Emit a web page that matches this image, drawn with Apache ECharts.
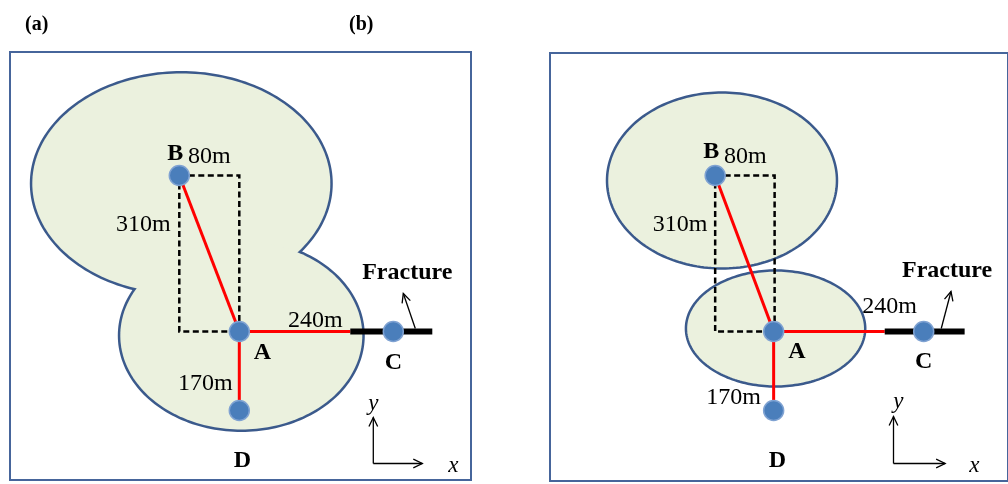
<!DOCTYPE html>
<html><head><meta charset="utf-8">
<script src="https://cdn.jsdelivr.net/npm/echarts@6/dist/echarts.min.js"></script>
<style>html,body{margin:0;padding:0;background:#fff}#c{width:1008px;height:484px}</style>
</head><body><div id="c"></div>
<script>
// ---------- data (schematic units, origin at well A, y up) ----------
const wellNames = ['A', 'B', 'C', 'D'];
const wellsA = [[0, 0], [-60, 156], [154, 0], [0, -79]];
const wellsB = [[0, 0], [-60, 156], [154, 0], [0, -79]];

// ellipses: [cx, cy, rx, ry]
const ellipsesA = [[-58, 148, 149, 110], [2, -4, 121, 94]];
const ellipsesB = [[-53, 151, 118, 88], [2, 3, 92, 58]];

// red well connections [x1,y1,x2,y2]
const redA = [[0, 0, -60, 156], [0, 0, 111, 0], [0, 0, 0, -79]];
const redB = [[0, 0, -60, 156], [0, 0, 114, 0], [0, 0, 0, -79]];
// fracture bars
const barA = [[111, 0, 193, 0]];
const barB = [[114, 0, 196, 0]];
// dashed rectangle corners
const dashA = [[-60, 156], [0, 156], [0, 0], [-60, 0]];
const dashB = [[-60, 156], [1, 156], [1, 0], [-60, 0]];
// arrows [x1,y1,x2,y2] (head at end)
const arrowsA = [[176, 3, 164, 38], [134, -132, 134, -86], [134, -132, 183, -132]];
const arrowsB = [[172, 3, 182, 40], [123, -132, 123, -85], [123, -132, 176, -132]];
// text labels [x, y, text, kind]
const labelsA = [
  [-64, 178, 'B', 'b'], [-30, 175, '80m', 'n'], [-96, 107, '310m', 'n'],
  [76, 11, '240m', 'n'], [23, -21, 'A', 'b'], [154, -31, 'C', 'b'],
  [-34, -52, '170m', 'n'], [3, -129, 'D', 'b'], [168, 59, 'Fracture', 'b'],
  [134, -72, 'y', 'i'], [214, -134, 'x', 'i']
];
const labelsB = [
  [-64, 180, 'B', 'b'], [-29, 175, '80m', 'n'], [-96, 107, '310m', 'n'],
  [119, 25, '240m', 'n'], [24, -20, 'A', 'b'], [154, -30, 'C', 'b'],
  [-41, -66, '170m', 'n'], [4, -129, 'D', 'b'], [178, 61, 'Fracture', 'b'],
  [128, -70, 'y', 'i'], [206, -134, 'x', 'i']
];
const panelTitles = ['(a)', '(b)'];

// ---------- styles ----------
const FILL = '#ebf1de', EDGE = '#3b5a8c', FONT = '"Liberation Serif", "Times New Roman", serif';

function ellipseSeries(idx, list, withStroke, lw, z) {
  return {
    type: 'custom', xAxisIndex: idx, yAxisIndex: idx, z: z, silent: true,
    data: list.map((e, i) => [e[0], e[1], i]),
    renderItem: function (params, api) {
      const e = list[params.dataIndex];
      const c = api.coord([e[0], e[1]]);
      const s = api.size([e[2], e[3]]);
      const pts = [];
      for (let k = 0; k < 200; k++) {
        const t = k / 200 * Math.PI * 2;
        pts.push([c[0] + s[0] * Math.cos(t), c[1] + s[1] * Math.sin(t)]);
      }
      return {
        type: 'polygon', shape: { points: pts },
        style: withStroke ? { fill: FILL, stroke: EDGE, lineWidth: lw } : { fill: FILL, stroke: null }
      };
    }
  };
}
function segSeries(idx, list, color, lw, z) {
  return {
    type: 'custom', xAxisIndex: idx, yAxisIndex: idx, z: z, silent: true,
    data: list.map((e, i) => [e[0], e[1], i]),
    renderItem: function (params, api) {
      const e = list[params.dataIndex];
      const a = api.coord([e[0], e[1]]), b = api.coord([e[2], e[3]]);
      return { type: 'line', shape: { x1: a[0], y1: a[1], x2: b[0], y2: b[1] },
        style: { stroke: color, lineWidth: lw, lineCap: 'butt' } };
    }
  };
}
function dashSeries(idx, list, z) {
  return {
    type: 'custom', xAxisIndex: idx, yAxisIndex: idx, z: z, silent: true,
    data: [[list[0][0], list[0][1]]],
    renderItem: function (params, api) {
      const pts = list.map(p => api.coord(p));
      return { type: 'polygon', shape: { points: pts },
        style: { fill: null, stroke: '#000', lineWidth: 2.5, lineDash: [6, 3.5] } };
    }
  };
}
function arrowSeries(idx, list, z) {
  return {
    type: 'custom', xAxisIndex: idx, yAxisIndex: idx, z: z, silent: true,
    data: list.map((e, i) => [e[0], e[1], i]),
    renderItem: function (params, api) {
      const e = list[params.dataIndex];
      const a = api.coord([e[0], e[1]]), b = api.coord([e[2], e[3]]);
      const ang = Math.atan2(b[1] - a[1], b[0] - a[0]);
      const L = 10, w = 0.45;
      const h1 = [b[0] - L * Math.cos(ang - w), b[1] - L * Math.sin(ang - w)];
      const h2 = [b[0] - L * Math.cos(ang + w), b[1] - L * Math.sin(ang + w)];
      return { type: 'group', children: [
        { type: 'line', shape: { x1: a[0], y1: a[1], x2: b[0], y2: b[1] }, style: { stroke: '#000', lineWidth: 1.3 } },
        { type: 'polyline', shape: { points: [h1, b, h2] }, style: { stroke: '#000', lineWidth: 1.3, fill: null } }
      ] };
    }
  };
}
function labelSeries(idx, list, z) {
  return {
    type: 'custom', xAxisIndex: idx, yAxisIndex: idx, z: z, silent: true,
    data: list.map((e, i) => [e[0], e[1], i]),
    renderItem: function (params, api) {
      const e = list[params.dataIndex];
      const p = api.coord([e[0], e[1]]);
      return { type: 'text', x: p[0], y: p[1], style: {
        text: e[2], fontFamily: FONT, fontSize: e[3] === 'i' ? 23 : 24,
        fontWeight: e[3] === 'b' ? 'bold' : 'normal',
        fontStyle: e[3] === 'i' ? 'italic' : 'normal',
        fill: '#000', align: 'center', verticalAlign: 'middle' } };
    }
  };
}
function wellSeries(idx, list, z) {
  return {
    type: 'scatter', xAxisIndex: idx, yAxisIndex: idx, z: z, silent: true,
    symbolSize: 20,
    itemStyle: { color: '#4a7ebb', borderColor: '#7fa2d2', borderWidth: 1.5, opacity: 1 },
    data: list.map((p, i) => ({ name: wellNames[i], value: p }))
  };
}

const chart = echarts.init(document.getElementById('c'), null, { renderer: 'canvas' });
chart.setOption({
  animation: false,
  backgroundColor: '#fff',
  title: [
    { text: panelTitles[0], left: 20, top: 10, textStyle: { fontFamily: FONT, fontSize: 20, fontWeight: 'bold', color: '#000' } },
    { text: panelTitles[1], left: 344, top: 10, textStyle: { fontFamily: FONT, fontSize: 20, fontWeight: 'bold', color: '#000' } }
  ],
  grid: [
    { left: 10, top: 52, width: 461, height: 428, show: true, borderColor: '#46659b', borderWidth: 2, backgroundColor: 'transparent' },
    { left: 550, top: 53, width: 470, height: 428, show: true, borderColor: '#46659b', borderWidth: 2, backgroundColor: 'transparent' }
  ],
  xAxis: [
    { gridIndex: 0, type: 'value', min: -229.3, max: 231.7, show: false },
    { gridIndex: 1, type: 'value', min: -229.5, max: 240.5, show: false }
  ],
  yAxis: [
    { gridIndex: 0, type: 'value', min: -148.5, max: 279.5, show: false },
    { gridIndex: 1, type: 'value', min: -149.5, max: 278.5, show: false }
  ],
  series: [
    // panel a: union of two ellipses
    ellipseSeries(0, ellipsesA, true, 5, 1),
    ellipseSeries(0, ellipsesA, false, 0, 2),
    dashSeries(0, dashA, 3),
    segSeries(0, redA, '#ff0000', 3, 4),
    segSeries(0, barA, '#000', 6, 5),
    arrowSeries(0, arrowsA, 5),
    wellSeries(0, wellsA, 6),
    labelSeries(0, labelsA, 7),
    // panel b
    ellipseSeries(1, ellipsesB, true, 2.5, 1),
    dashSeries(1, dashB, 3),
    segSeries(1, redB, '#ff0000', 3, 4),
    segSeries(1, barB, '#000', 6, 5),
    arrowSeries(1, arrowsB, 5),
    wellSeries(1, wellsB, 6),
    labelSeries(1, labelsB, 7)
  ]
});
</script>
</body></html>
